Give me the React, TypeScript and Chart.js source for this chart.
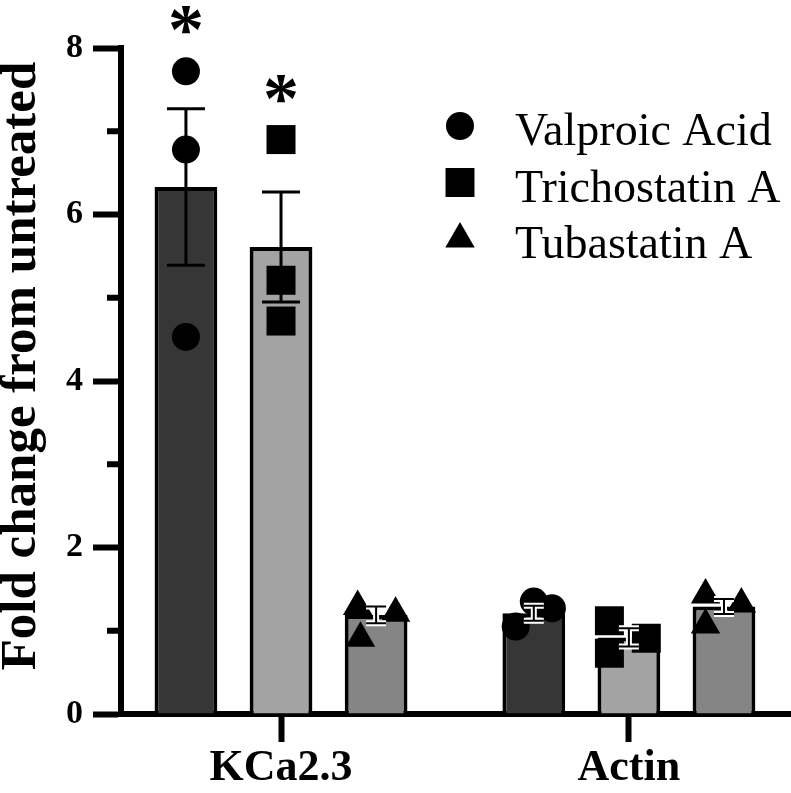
import React, { useEffect, useRef } from 'react';
import { Chart, registerables } from 'chart.js';
import { drawPoint } from 'chart.js/helpers';

Chart.register(...registerables);

// ---------------- data ----------------
const categories = ['KCa2.3', 'Actin'];
const treatments = ['Valproic Acid', 'Trichostatin A', 'Tubastatin A'];

const meanVPA = [6.33, 1.21];
const meanTSA = [5.61, 0.92];
const meanTUB = [1.19, 1.29];

const semVPA = [0.94, 0.09];
const semTSA = [0.66, 0.11];
const semTUB = [0.1, 0.09];

// individual replicates per category
const pointsVPA = [[7.72, 6.78, 4.53], [1.05, 1.35, 1.27]];
const pointsTSA = [[6.9, 5.21, 4.72], [1.12, 0.91, 0.73]];
const pointsTUB = [[1.29, 1.21, 0.91], [1.43, 1.32, 1.07]];

// horizontal jitter of replicates (in category units)
const jitterVPA = [[0, 0, 0], [-0.052, 0, 0.052]];
const jitterTSA = [[0, 0, 0], [-0.056, 0.05, -0.056]];
const jitterTUB = [[-0.053, 0.056, -0.045], [-0.053, 0.05, -0.053]];

const sigVPA = ['*', ''];
const sigTSA = ['*', ''];
const sigTUB = ['', ''];

const yTickValues = [0, 1, 2, 3, 4, 5, 6, 7, 8];
const yTickLabels = ['0', '', '2', '', '4', '', '6', '', '8'];
const yTitle = 'Fold change from untreated';

// ---------------- styling ----------------
const FONT = "'Liberation Serif', 'Times New Roman', serif";
const CAT_PCT = 0.82;
const BAR_PCT = 0.66;

const groups = [
  { label: treatments[0], mean: meanVPA, sem: semVPA, pts: pointsVPA, jit: jitterVPA, sig: sigVPA, color: '#363636', style: 'circle', radius: 14 },
  { label: treatments[1], mean: meanTSA, sem: semTSA, pts: pointsTSA, jit: jitterTSA, sig: sigTSA, color: '#a3a3a3', style: 'rect', radius: 20.5 },
  { label: treatments[2], mean: meanTUB, sem: semTUB, pts: pointsTUB, jit: jitterTUB, sig: sigTUB, color: '#858585', style: 'triangle', radius: 17 },
];

const extrasPlugin = {
  id: 'extras',
  afterDatasetsDraw(chart: any) {
    const ctx = chart.ctx;
    const ys = chart.scales.y;
    // error bars
    groups.forEach((g, d) => {
      const meta = chart.getDatasetMeta(d);
      meta.data.forEach((el: any, i: number) => {
        const m = g.mean[i];
        const s = g.sem[i];
        const x = el.x;
        const yT = ys.getPixelForValue(m + s);
        const yB = ys.getPixelForValue(m - s);
        const small = s < 0.3;
        const cap = small ? 20 : 38;
        const path = () => {
          ctx.beginPath();
          ctx.moveTo(x, yT);
          ctx.lineTo(x, yB);
          ctx.moveTo(x - cap / 2, yT);
          ctx.lineTo(x + cap / 2, yT);
          ctx.moveTo(x - cap / 2, yB);
          ctx.lineTo(x + cap / 2, yB);
        };
        ctx.save();
        ctx.lineCap = 'butt';
        if (small) {
          path();
          ctx.strokeStyle = '#ffffff';
          ctx.lineWidth = 6;
          ctx.stroke();
          path();
          ctx.strokeStyle = '#000000';
          ctx.lineWidth = 2;
          ctx.stroke();
        } else {
          path();
          ctx.strokeStyle = '#000000';
          ctx.lineWidth = 3;
          ctx.stroke();
        }
        ctx.restore();
        // significance
        if (g.sig[i]) {
          const top = Math.max(...g.pts[i], m + s);
          const cy = ys.getPixelForValue(top) - 51;
          ctx.save();
          ctx.font = `bold 72px ${FONT}`;
          ctx.fillStyle = '#000';
          ctx.textAlign = 'center';
          ctx.textBaseline = 'alphabetic';
          const mt = ctx.measureText(g.sig[i]);
          const base = cy + (mt.actualBoundingBoxAscent - mt.actualBoundingBoxDescent) / 2;
          ctx.fillText(g.sig[i], x, base);
          ctx.restore();
        }
      });
    });
  },
  afterDraw(chart: any) {
    const ctx = chart.ctx;
    const ys = chart.scales.y;
    const axisX = chart.chartArea.left;
    // minor ticks
    ctx.save();
    ctx.strokeStyle = '#000';
    ctx.lineWidth = 6;
    yTickValues.forEach((v, k) => {
      if (yTickLabels[k]) return;
      const py = ys.getPixelForValue(v);
      ctx.beginPath();
      ctx.moveTo(axisX - 14, py);
      ctx.lineTo(axisX, py);
      ctx.stroke();
    });
    ctx.restore();

    // legend
    ctx.save();
    ctx.fillStyle = '#000';
    ctx.strokeStyle = '#000';
    groups.forEach((g, r) => {
      const my = 126 + r * 56.5;
      drawPoint(ctx, { pointStyle: g.style, radius: g.radius, rotation: 0, borderWidth: 0 } as any, 460, my);
      ctx.font = `46px ${FONT}`;
      ctx.textAlign = 'left';
      ctx.textBaseline = 'alphabetic';
      ctx.fillText(g.label, 515, my + 19);
    });
    ctx.restore();

    // y title
    ctx.save();
    ctx.translate(35, 366);
    ctx.rotate(-Math.PI / 2);
    ctx.font = `bold 51px ${FONT}`;
    ctx.fillStyle = '#000';
    ctx.textAlign = 'center';
    ctx.textBaseline = 'alphabetic';
    ctx.fillText(yTitle, 0, 0);
    ctx.restore();
  },
};

export default function App() {
  const ref = useRef<HTMLCanvasElement | null>(null);
  useEffect(() => {
    if (!ref.current) return;
    const barSets = groups.map((g) => ({
      type: 'bar' as const,
      label: g.label,
      data: g.mean.map((m, i) => ({ x: i, y: m })),
      backgroundColor: g.color,
      borderColor: '#000',
      borderWidth: 4,
      categoryPercentage: CAT_PCT,
      barPercentage: BAR_PCT,
      order: 2,
    }));
    const ptSets = groups.map((g, d) => ({
      type: 'scatter' as const,
      label: g.label,
      data: g.pts.flatMap((arr, i) =>
        arr.map((v, k) => ({ x: i + ((d - 1) * CAT_PCT) / 3 + g.jit[i][k], y: v }))
      ),
      pointStyle: g.style,
      pointRadius: g.radius,
      pointHoverRadius: g.radius,
      backgroundColor: '#000',
      borderColor: '#000',
      borderWidth: 0,
      showLine: false,
      order: 1,
      clip: false as any,
    }));
    const chart = new Chart(ref.current, {
      type: 'bar',
      data: { datasets: [...barSets, ...ptSets] as any },
      plugins: [extrasPlugin],
      options: {
        animation: false,
        responsive: false,
        events: [],
        layout: { autoPadding: false, padding: { top: 48, left: 0, right: 0, bottom: 0 } },
        plugins: { legend: { display: false }, tooltip: { enabled: false } },
        scales: {
          x: {
            type: 'linear',
            min: -0.46,
            max: 1.466,
            offset: false,
            afterBuildTicks: (s: any) => {
              s.ticks = categories.map((_, i) => ({ value: i }));
            },
            afterFit: (s: any) => {
              s.height = 79;
              s.paddingLeft = 0;
              s.paddingRight = 0;
            },
            ticks: {
              callback: (v: any) => categories[v] ?? '',
              font: { family: FONT, size: 44, weight: 'bold' },
              color: '#000',
              padding: 0,
              maxRotation: 0,
              autoSkip: false,
            },
            grid: {
              offset: false,
              drawOnChartArea: false,
              drawTicks: true,
              tickLength: 28,
              tickWidth: 6,
              tickColor: '#000',
            },
            border: { display: true, width: 6, color: '#000' },
          },
          y: {
            type: 'linear',
            min: 0,
            max: 8,
            afterBuildTicks: (s: any) => {
              s.ticks = yTickValues.map((v) => ({ value: v }));
            },
            afterFit: (s: any) => {
              s.width = 121;
            },
            ticks: {
              callback: (v: any) => yTickLabels[yTickValues.indexOf(v)] ?? '',
              font: { family: FONT, size: 34, weight: 'bold' },
              color: '#000',
              padding: 10,
              autoSkip: false,
            },
            grid: {
              drawOnChartArea: false,
              drawTicks: true,
              tickLength: 28,
              tickWidth: 6,
              tickColor: (c: any) => (yTickLabels[yTickValues.indexOf(c.tick?.value)] ? '#000' : 'rgba(0,0,0,0)'),
            },
            border: { display: true, width: 6, color: '#000' },
          },
        },
      } as any,
    });
    return () => chart.destroy();
  }, []);
  return (
    <div style={{ position: 'absolute', left: 0, top: 0, width: 791, height: 793, background: '#fff' }}>
      <canvas ref={ref} width={791} height={793} />
    </div>
  );
}
